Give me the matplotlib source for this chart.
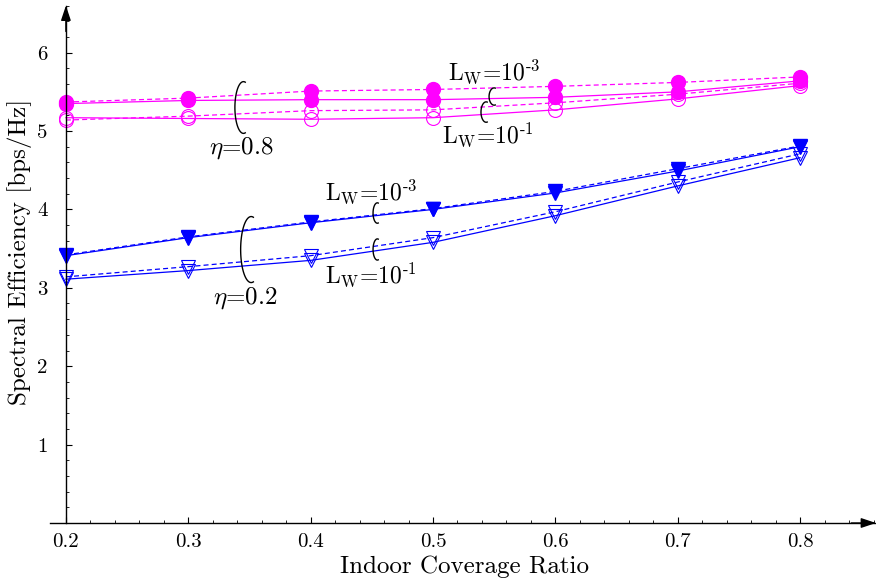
import matplotlib
matplotlib.use('Agg')
import numpy as np
import matplotlib.pyplot as plt
from matplotlib.ticker import MultipleLocator, FormatStrFormatter

plt.rcParams['font.family'] = ['cmr10', 'DejaVu Serif']
plt.rcParams['mathtext.fontset'] = 'cm'
plt.rcParams['axes.formatter.use_mathtext'] = True

# ---------------- data ----------------
coverage = [0.2, 0.3, 0.4, 0.5, 0.6, 0.7, 0.8]

# eta = 0.8 (magenta, circles)
eta08_lw3_dashed = [5.37, 5.42, 5.51, 5.53, 5.57, 5.62, 5.69]
eta08_lw3_solid  = [5.35, 5.39, 5.40, 5.40, 5.43, 5.50, 5.64]
eta08_lw1_dashed = [5.14, 5.19, 5.26, 5.27, 5.36, 5.47, 5.61]
eta08_lw1_solid  = [5.17, 5.16, 5.15, 5.17, 5.27, 5.41, 5.58]

# eta = 0.2 (blue, triangles)
eta02_lw3_dashed = [3.42, 3.65, 3.84, 4.01, 4.23, 4.52, 4.81]
eta02_lw3_solid  = [3.41, 3.64, 3.83, 4.00, 4.21, 4.49, 4.80]
eta02_lw1_dashed = [3.14, 3.27, 3.41, 3.64, 3.97, 4.35, 4.71]
eta02_lw1_solid  = [3.11, 3.22, 3.35, 3.58, 3.92, 4.30, 4.66]

xticks = [0.2, 0.3, 0.4, 0.5, 0.6, 0.7, 0.8]
yticks = [1, 2, 3, 4, 5, 6]

magenta = '#ff00ff'
blue = '#0000ff'

fig = plt.figure(figsize=(8.76, 5.81), dpi=100)
ax = fig.add_axes([50 / 876, 58 / 581, 826 / 876, 517.4 / 581])
ax.set_xlim(0.187, 0.862)
ax.set_ylim(0, 6.6)

lw = 0.9
ms = 10
# magenta curves
ax.plot(coverage, eta08_lw3_dashed, '--', color=magenta, lw=lw, marker='o', ms=ms,
        mfc=magenta, mec=magenta, dashes=(4, 2.5))
ax.plot(coverage, eta08_lw3_solid, '-', color=magenta, lw=lw, marker='o', ms=ms,
        mfc=magenta, mec=magenta)
ax.plot(coverage, eta08_lw1_dashed, '--', color=magenta, lw=lw, marker='o', ms=ms,
        mfc='none', mec=magenta, mew=0.8, dashes=(4, 2.5))
ax.plot(coverage, eta08_lw1_solid, '-', color=magenta, lw=lw, marker='o', ms=ms,
        mfc='none', mec=magenta, mew=0.8)
# blue curves
ax.plot(coverage, eta02_lw3_dashed, '--', color=blue, lw=lw, marker='v', ms=ms,
        mfc=blue, mec=blue, dashes=(4, 2.5))
ax.plot(coverage, eta02_lw3_solid, '-', color=blue, lw=lw, marker='v', ms=ms,
        mfc=blue, mec=blue)
ax.plot(coverage, eta02_lw1_dashed, '--', color=blue, lw=lw, marker='v', ms=ms,
        mfc='none', mec=blue, mew=0.8, dashes=(4, 2.5))
ax.plot(coverage, eta02_lw1_solid, '-', color=blue, lw=lw, marker='v', ms=ms,
        mfc='none', mec=blue, mew=0.8)

# ---------------- axes styling ----------------
for s in ['top', 'right']:
    ax.spines[s].set_visible(False)
ax.spines['left'].set_position(('data', 0.2))
ax.spines['bottom'].set_position(('data', 0))
ax.spines['left'].set_linewidth(1.0)
ax.spines['bottom'].set_linewidth(1.0)

ax.set_xticks(xticks)
ax.set_yticks(yticks)
ax.xaxis.set_major_formatter(FormatStrFormatter('%.1f'))
ax.yaxis.set_major_formatter(FormatStrFormatter('%d'))
ax.xaxis.set_minor_locator(MultipleLocator(0.02))
ax.yaxis.set_minor_locator(MultipleLocator(0.2))
ax.tick_params(axis='both', which='major', direction='in', length=4.5, width=0.8,
               labelsize=15)
ax.tick_params(axis='both', which='minor', direction='in', length=2.5, width=0.6)
ax.tick_params(axis='y', which='major', pad=13)
ax.tick_params(axis='x', which='major', pad=7)

# arrow heads
ax.annotate('', xy=(1.0, 0), xycoords=ax.get_yaxis_transform(),
            xytext=(0.97, 0), textcoords=ax.get_yaxis_transform(),
            arrowprops=dict(arrowstyle='-|>,head_length=0.9,head_width=0.3',
                            color='black', lw=1.0, shrinkA=0, shrinkB=0),
            annotation_clip=False)
ax.annotate('', xy=(0.2, 1.0), xycoords=ax.get_xaxis_transform(),
            xytext=(0.2, 0.95), textcoords=ax.get_xaxis_transform(),
            arrowprops=dict(arrowstyle='-|>,head_length=0.9,head_width=0.3',
                            color='black', lw=1.0, shrinkA=0, shrinkB=0),
            annotation_clip=False)

# labels
fig.text(20 / 876, 1 - 252 / 581, 'Spectral Efficiency [bps/Hz]', rotation=90,
         ha='center', va='center', fontsize=18)
fig.text(465 / 876, 1 - 567 / 581, 'Indoor Coverage Ratio', ha='center',
         va='center', fontsize=18)

# ---------------- annotations ----------------
arcs = [
    # (cx, cy, half-width, half-height)
    (0.3451, 5.30, 0.0070, 0.33),
    (0.3514, 3.488, 0.0086, 0.421),
    (0.5500, 5.44, 0.0042, 0.11),
    (0.5434, 5.242, 0.0042, 0.13),
    (0.4545, 3.954, 0.0035, 0.13),
    (0.4545, 3.489, 0.0035, 0.135),
]
t = np.radians(np.linspace(78, 282, 100))
for cx, cy, a, b in arcs:
    ax.plot(cx + a * np.cos(t), cy + b * np.sin(t), color='black', lw=1.0)

tfs = 17
sup3 = r'L$_\mathrm{W}$=10$^{\text{-}3}$'
sup1 = r'L$_\mathrm{W}$=10$^{\text{-}1}$'
ax.text(0.3431, 4.783, r'$\eta$=0.8', ha='center', va='center', fontsize=18)
ax.text(0.3463, 2.870, r'$\eta$=0.2', ha='center', va='center', fontsize=18)
ax.text(0.5499, 5.753, sup3, ha='center', va='center', fontsize=tfs)
ax.text(0.5450, 4.949, sup1, ha='center', va='center', fontsize=tfs)
ax.text(0.4493, 4.222, sup3, ha='center', va='center', fontsize=tfs)
ax.text(0.4493, 3.163, sup1, ha='center', va='center', fontsize=tfs)

fig.savefig('out.png', dpi=100)
